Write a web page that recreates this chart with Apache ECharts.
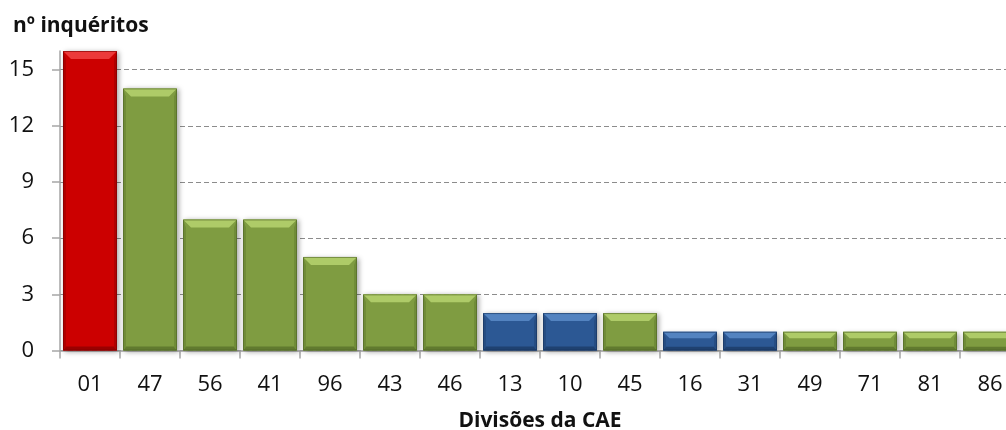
<!DOCTYPE html>
<html>
<head>
<meta charset="utf-8">
<script src="https://cdn.jsdelivr.net/npm/echarts@6/dist/echarts.min.js"></script>
<style>
  html, body { margin: 0; padding: 0; background: #fff; }
  #chart { width: 1006px; height: 430px; }
</style>
</head>
<body>
<div id="chart"></div>
<script>
// Inquéritos por divisão da CAE
const categories = ['01', '47', '56', '41', '96', '43', '46', '13', '10', '45', '16', '31', '49', '71', '81', '86'];
const values = [16, 14, 7, 7, 5, 3, 3, 2, 2, 2, 1, 1, 1, 1, 1, 1];
const groups = ['red', 'green', 'green', 'green', 'green', 'green', 'green', 'blue', 'blue', 'green', 'blue', 'blue', 'green', 'green', 'green', 'green'];
const yTicks = [0, 3, 6, 9, 12, 15];

const FONT = '"Open Sans", "Noto Sans", sans-serif';

// bevel palettes: face, top highlight, side, bottom
const palette = {
  red:   { face: '#CC0000', top: '#EC3A3A', side: '#B00000', bottom: '#9A0000', edge: '#7A0000' },
  green: { face: '#7F9C41', top: '#AECB68', side: '#708C38', bottom: '#617A2F', edge: '#4F6426' },
  blue:  { face: '#2C5894', top: '#5383C0', side: '#264D83', bottom: '#1F4170', edge: '#17345C' }
};

function renderBar(params, api) {
  const idx = api.value(0);
  const v = api.value(1);
  const top = api.coord([idx, v]);
  const base = api.coord([idx, 0]);
  const bw = api.size([1, 0])[0] * 0.9;
  const l = top[0] - bw / 2, r = top[0] + bw / 2;
  const t = top[1], b = base[1];
  const h = b - t;
  const bt = Math.min(8, h * 0.35);   // top bevel depth
  const bs = Math.min(3, bw * 0.1);   // side bevel width
  const bb = Math.min(4, h * 0.2);    // bottom bevel depth
  const p = palette[groups[params.dataIndex]];
  return {
    type: 'group',
    children: [
      { type: 'rect', shape: { x: l, y: t, width: bw, height: h },
        style: { fill: p.face, shadowBlur: 5, shadowColor: 'rgba(0,0,0,0.35)', shadowOffsetX: 2, shadowOffsetY: 1 } },
      { type: 'polygon', shape: { points: [[l, b], [r, b], [r - bs, b - bb], [l + bs, b - bb]] },
        style: { fill: p.bottom } },
      { type: 'polygon', shape: { points: [[l, t], [l + bs, t + bt], [l + bs, b - bb], [l, b]] },
        style: { fill: p.side } },
      { type: 'polygon', shape: { points: [[r, t], [r - bs, t + bt], [r - bs, b - bb], [r, b]] },
        style: { fill: p.side } },
      { type: 'polygon', shape: { points: [[l, t], [r, t], [r - bt, t + bt], [l + bt, t + bt]] },
        style: { fill: p.top } },
      { type: 'rect', shape: { x: l + 0.5, y: t + 0.5, width: bw - 1, height: h - 1 },
        style: { fill: 'none', stroke: p.edge, lineWidth: 1, opacity: 0.6 } }
    ]
  };
}

const chart = echarts.init(document.getElementById('chart'), null, { renderer: 'canvas' });
chart.setOption({
  animation: false,
  backgroundColor: '#fff',
  textStyle: { fontFamily: FONT },
  title: {
    text: 'nº inquéritos',
    left: 8, top: 11,
    textStyle: { fontFamily: FONT, fontWeight: 'bold', fontSize: 21, color: '#111' }
  },
  grid: { left: 60, top: 51, width: 960, height: 299.5, outerBoundsMode: 'none', containLabel: false },
  xAxis: {
    type: 'category',
    data: categories,
    name: 'Divisões da CAE',
    nameLocation: 'middle',
    nameGap: 60,
    nameTextStyle: { fontFamily: FONT, fontWeight: 'bold', fontSize: 21, color: '#111' },
    axisLine: { lineStyle: { color: '#A6A6A6', width: 1.5 } },
    axisTick: { show: true, length: 8, lineStyle: { color: '#A6A6A6', width: 1.5 } },
    axisLabel: { margin: 23, fontSize: 22, color: '#111', fontFamily: FONT, interval: 0 }
  },
  yAxis: {
    type: 'value',
    min: 0, max: 16, interval: 3,
    axisLine: { show: true, lineStyle: { color: '#A6A6A6', width: 1.5 } },
    axisTick: { show: true, length: 8, customValues: yTicks, lineStyle: { color: '#A6A6A6', width: 1.5 } },
    axisLabel: { margin: 26, fontSize: 22, color: '#111', fontFamily: FONT, customValues: yTicks },
    splitLine: { show: true, lineStyle: { color: '#8C8C8C', type: [5, 3], width: 1 } }
  },
  series: [{
    type: 'custom',
    renderItem: renderBar,
    encode: { x: 0, y: 1 },
    clip: false,
    data: values.map((v, i) => [i, v])
  }]
});
</script>
</body>
</html>
